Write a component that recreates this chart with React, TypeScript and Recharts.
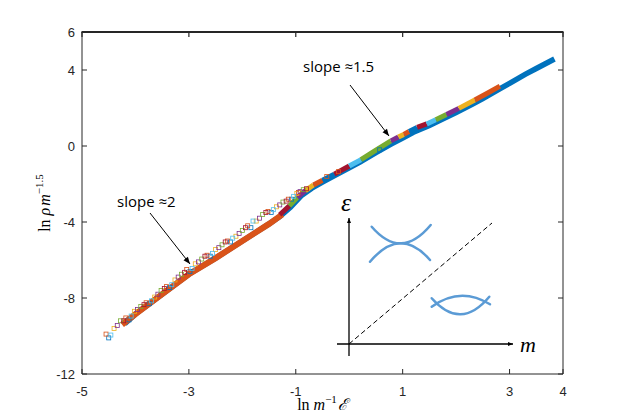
import React from 'react';
import { ComposedChart, Line, Scatter, XAxis, YAxis } from 'recharts';

const xTicks = [-5, -3, -1, 1, 3, 4];
const yTicks = [-12, -8, -4, 0, 4, 6];

// [ln m^-1 E, ln rho m^-1.5]
const blueCurve: [number, number][] = [
  [-4.2, -9.35], [-4.0, -8.85], [-3.5, -7.8], [-3.0, -6.75], [-2.5, -5.9], [-2.0, -5.0],
  [-1.5, -4.1], [-1.3, -3.72], [-1.1, -3.22], [-0.9, -2.62], [-0.7, -2.22], [-0.5, -1.9],
  [-0.3, -1.6], [0.0, -1.15], [0.2, -0.85], [0.5, -0.35], [0.8, 0.12], [1.0, 0.42],
  [1.2, 0.72], [1.5, 1.08], [1.7, 1.35], [2.0, 1.76], [2.3, 2.2], [2.5, 2.5],
  [2.8, 2.98], [3.0, 3.3], [3.3, 3.78], [3.5, 4.08], [3.84, 4.58],
];

const orangeBand: [number, number][] = [
  [-4.25, -9.4], [-4.0, -8.85], [-3.5, -7.8], [-3.0, -6.75], [-2.5, -5.9],
  [-2.0, -5.0], [-1.5, -4.1], [-1.25, -3.6],
];

// short runs of filled markers sitting on the curve, in draw order
const runs: [number, number][][] = [
  [[-1.30, -3.62], [-1.12, -3.15]],
  [[-1.12, -3.15], [-0.97, -2.7]],
  [[-0.97, -2.7], [-0.82, -2.35]],
  [[-0.82, -2.35], [-0.67, -2.05]],
  [[-0.67, -2.05], [-0.50, -1.8]],
  [[-0.50, -1.8], [-0.28, -1.48]],
  [[-0.28, -1.48], [0.0, -1.05]],
  [[0.0, -1.05], [0.22, -0.72]],
  [[0.22, -0.72], [0.5, -0.22], [0.78, 0.27]],
  [[0.78, 0.27], [0.92, 0.47]],
  [[0.92, 0.47], [1.02, 0.61]],
  [[1.02, 0.61], [1.12, 0.76]],
  [[1.12, 0.76], [1.27, 0.98]],
  [[1.27, 0.98], [1.45, 1.16]],
  [[1.45, 1.16], [1.62, 1.38]],
  [[1.62, 1.38], [1.82, 1.66]],
  [[1.82, 1.66], [2.05, 1.98]],
  [[2.05, 1.98], [2.35, 2.42]],
  [[2.35, 2.42], [2.6, 2.8], [2.82, 3.15]],
];

// top edge of the axes box, drawn as a series along y = 6
const topEdge: [number, number][] = [[-5, 6], [4, 6]];

const sqBlue: [number, number][] = [
  [-4.50, -10.1], [-4.12, -9.15], [-3.74, -8.3], [-3.36, -7.45], [-2.98, -6.6],
  [-2.60, -5.8], [-2.22, -5.05], [-1.84, -4.3], [-1.46, -3.5], [-1.08, -2.8], [0.57, -0.2],
];
const sqOrange: [number, number][] = [
  [-4.55, -9.9], [-4.18, -9.05], [-3.80, -8.25], [-3.42, -7.4], [-3.04, -6.5],
  [-2.66, -5.75], [-2.28, -5.0], [-1.90, -4.2], [-1.52, -3.45], [-1.14, -2.8],
  [-0.95, -2.45], [-0.42, -1.6], [-0.2, -1.35],
];
const sqYellow: [number, number][] = [
  [-4.40, -9.6], [-4.02, -8.7], [-3.64, -7.95], [-3.26, -7.05], [-2.88, -6.2],
  [-2.50, -5.45], [-2.12, -4.75], [-1.74, -3.95], [-1.36, -3.2], [-0.98, -2.5],
];
const sqPurple: [number, number][] = [
  [-4.34, -9.45], [-3.96, -8.6], [-3.58, -7.8], [-3.20, -6.9], [-2.82, -6.1],
  [-2.44, -5.35], [-2.06, -4.6], [-1.68, -3.8], [-1.30, -3.1], [-0.92, -2.4],
];
const sqGreen: [number, number][] = [
  [-4.28, -9.2], [-3.90, -8.45], [-3.52, -7.6], [-3.14, -6.75], [-2.76, -5.95],
  [-2.38, -5.2], [-2.00, -4.45], [-1.62, -3.6], [-1.24, -2.95], [-0.86, -2.3],
];
const sqCyan: [number, number][] = [
  [-4.46, -9.95], [-4.08, -8.95], [-3.70, -8.15], [-3.32, -7.3], [-2.94, -6.45],
  [-2.56, -5.65], [-2.18, -4.85], [-1.80, -3.95], [-1.42, -3.35], [-1.04, -2.65],
];
const sqMaroon: [number, number][] = [
  [-4.22, -9.2], [-3.84, -8.35], [-3.46, -7.5], [-3.08, -6.65], [-2.70, -5.8],
  [-2.32, -5.05], [-1.94, -4.3], [-1.56, -3.5], [-1.18, -2.9], [-0.80, -2.25],
];

// matlab default colour order
const BLUE = '#0072BD';
const ORANGE = '#D95319';
const YELLOW = '#EDB120';
const PURPLE = '#7E2F8E';
const GREEN = '#77AC30';
const CYAN = '#4DBEEE';
const MAROON = '#A2142F';

const runColors = [
  MAROON, GREEN, PURPLE, YELLOW, ORANGE, BLUE, MAROON, CYAN, GREEN,
  PURPLE, YELLOW, ORANGE, BLUE, MAROON, CYAN, GREEN, PURPLE, YELLOW, ORANGE,
];

const squareSets: [string, [number, number][]][] = [
  [BLUE, sqBlue], [ORANGE, sqOrange], [YELLOW, sqYellow], [PURPLE, sqPurple],
  [GREEN, sqGreen], [CYAN, sqCyan], [MAROON, sqMaroon],
];

const toRows = (pts: [number, number][]) => pts.map(([x, y]) => ({ x, y }));

// plot box inside the svg (follows from the margins / axis sizes below)
const W = 607;
const H = 404;
const PLOT_L = 74;
const PLOT_R = 555;
const PLOT_T = 24;

const AXIS = '#262626';
const INSET = '#5B9BD5';
const tickFont = { fill: AXIS, fontSize: 13, fontFamily: '"Liberation Sans", Arial, sans-serif' };
const mathFont = '"Liberation Serif", "Times New Roman", serif';

const noLabel = () => <g />;

const openSquare = (color: string) => (props: any) => (
  <rect x={props.cx - 2} y={props.cy - 2} width={4} height={4} fill="none" stroke={color} strokeWidth={0.8} />
);

const XLabel = (props: any) => {
  const vb = props.viewBox;
  const cx = vb.x + vb.width / 2;
  return (
    <text x={cx} y={vb.y + 36} textAnchor="middle" fontFamily={mathFont} fontSize={16} fill="#000">
      <tspan>ln</tspan>
      <tspan dx={4} fontStyle="italic">m</tspan>
      <tspan dy={-7} fontSize={11}>−1</tspan>
      <tspan dy={7} dx={1} fontStyle="italic">ℰ</tspan>
    </text>
  );
};

const YLabel = (props: any) => {
  const vb = props.viewBox;
  const cx = vb.x + 28;
  const cy = vb.y + vb.height / 2;
  return (
    <text x={cx} y={cy} transform={`rotate(-90 ${cx} ${cy})`} textAnchor="middle" fontFamily={mathFont} fontSize={16} fill="#000">
      <tspan>ln</tspan>
      <tspan dx={4} fontStyle="italic">ρ</tspan>
      <tspan dx={2} fontStyle="italic">m</tspan>
      <tspan dy={-7} fontSize={11}>−1.5</tspan>
    </text>
  );
};

const topTickX = (t: number) => PLOT_L + ((t + 5) / 9) * (PLOT_R - PLOT_L);

const Overlay = () => (
  <svg width={W} height={H} style={{ position: 'absolute', left: 0, top: 0, pointerEvents: 'none' }}>
    <defs>
      <marker id="ah" viewBox="0 0 10 10" refX="10" refY="5" markerWidth="8" markerHeight="7" markerUnits="userSpaceOnUse" orient="auto">
        <path d="M0,1 L10,5 L0,9 z" fill="#000" />
      </marker>
      <marker id="ahs" viewBox="0 0 10 10" refX="10" refY="5" markerWidth="6" markerHeight="5" markerUnits="userSpaceOnUse" orient="auto">
        <path d="M0,1 L10,5 L0,9 z" fill="#000" />
      </marker>
    </defs>
    {/* top edge of the axes box with inward ticks */}
    <rect x={PLOT_L - 0.5} y={PLOT_T - 1} width={PLOT_R - PLOT_L + 1} height={2} fill={AXIS} />
    {xTicks.map((t) => (
      <rect key={t} x={topTickX(t) - 0.6} y={PLOT_T} width={1.2} height={5} fill={AXIS} />
    ))}
    {/* annotations */}
    <g fontFamily='"Open Sans", sans-serif' fontSize={15} fill="#000">
      <text x={109} y={199}>slope ≈2</text>
      <text x={295} y={64}>slope ≈1.5</text>
    </g>
    <line x1={142} y1={205} x2={182} y2={256} stroke="#000" strokeWidth={1} markerEnd="url(#ah)" />
    <line x1={342} y1={77} x2={381} y2={128} stroke="#000" strokeWidth={1} markerEnd="url(#ah)" />
    {/* inset sketch */}
    <line x1={341} y1={348} x2={341} y2={210} stroke="#000" strokeWidth={1.3} markerEnd="url(#ahs)" />
    <line x1={329} y1={336} x2={505} y2={336} stroke="#000" strokeWidth={1.3} markerEnd="url(#ahs)" />
    <line x1={341} y1={336} x2={484} y2={215} stroke="#000" strokeWidth={1} strokeDasharray="5 3" />
    <text x={333} y={203} fontFamily={mathFont} fontStyle="italic" fontSize={26} fill="#000">ε</text>
    <text x={512} y={344} fontFamily={mathFont} fontStyle="italic" fontSize={22} fill="#000">m</text>
    <g fill="none" stroke={INSET} strokeWidth={2.5} strokeLinecap="round">
      <path d="M363.7,218.7 Q393,252.7 422.7,217" />
      <path d="M362,253.7 Q392.5,217.7 422,252" />
      <path d="M423.7,298.7 Q452.5,277.9 482,296.3" />
      <path d="M423.7,290.3 Q452.5,323.1 481.3,288.7" />
    </g>
  </svg>
);

export default function App() {
  return (
    <div style={{ position: 'relative', width: W, height: H }}>
      <ComposedChart width={W} height={H} margin={{ top: PLOT_T, right: 51, bottom: 8, left: 14 }}>
        <XAxis
          xAxisId={0}
          dataKey="x"
          type="number"
          domain={[-5, 4]}
          ticks={xTicks}
          allowDataOverflow
          height={30}
          stroke={AXIS}
          tickSize={-5}
          tickMargin={18}
          tick={tickFont}
          label={<XLabel />}
        />
        <YAxis
          yAxisId={0}
          type="number"
          domain={[-12, 6]}
          ticks={yTicks}
          allowDataOverflow
          width={60}
          stroke={AXIS}
          tickSize={-5}
          tickMargin={12}
          tick={tickFont}
          label={<YLabel />}
        />
        <YAxis
          yAxisId="right"
          orientation="right"
          type="number"
          domain={[-12, 6]}
          ticks={yTicks}
          allowDataOverflow
          tick={noLabel}
          tickSize={-5}
          stroke={AXIS}
          width={1}
        />
        {/* invisible series so the right box axis gets drawn */}
        <Line yAxisId="right" data={toRows(blueCurve)} dataKey="y" stroke="none" dot={false} isAnimationActive={false} />
        <Line data={toRows(topEdge)} dataKey="y" stroke={AXIS} strokeWidth={2} dot={false} isAnimationActive={false} />
        <Line data={toRows(blueCurve)} dataKey="y" stroke={BLUE} strokeWidth={5.5} dot={false} isAnimationActive={false} />
        <Line data={toRows(orangeBand)} dataKey="y" stroke={ORANGE} strokeWidth={6} dot={false} isAnimationActive={false} />
        {runs.map((r, i) => (
          <Line key={'run' + i} data={toRows(r)} dataKey="y" stroke={runColors[i]} strokeWidth={5} strokeLinecap="butt" dot={false} isAnimationActive={false} />
        ))}
        {squareSets.map(([c, pts], i) => (
          <Scatter key={'sq' + i} data={toRows(pts)} dataKey="y" shape={openSquare(c)} isAnimationActive={false} />
        ))}
      </ComposedChart>
      <Overlay />
    </div>
  );
}
